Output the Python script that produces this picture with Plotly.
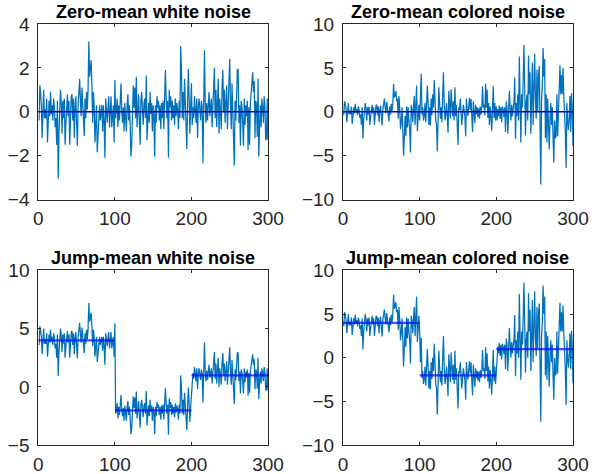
import plotly.graph_objects as go

# ---------------------------------------------------------------- data
# sample index shared by all four panels
sample_index = list(range(1, 301))

white_noise = [
    -0.4, 1.2, 0.9, 0.3, -1.2, 0.2, 1.0, -0.3, 0.1, -0.3,
    0.6, -1.4, 0.2, 0.5, -0.2, 0.9, -0.1, 0.3, -0.4, 0.6,
    0.2, -0.7, -0.3, -1.5, 0.5, -3.05, -1.0, -0.2, 1.0, 0.4,
    -1.0, 0.5, -0.3, 0.6, -1.5, -0.6, 0.7, 0.8, -0.2, 0.5,
    -1.5, 0.3, 0.7, 0.8, -0.4, 0.6, -1.2, 0.2, 0.7, -0.5,
    -1.55, 0.3, 1.1, 1.5, 0.5, -0.2, 1.1, 0.3, -0.8, -1.1,
    0.6, -0.3, 0.9, 0.1, 1.0, 3.2, 1.6, 2.3, 2.35, 1.2,
    -0.5, 0.9, 0.2, -1.4, -0.6, 0.3, -1.85, -1.0, -0.2, 0.3,
    -0.4, 0.1, 0.3, -0.9, 0.3, -0.5, -2.1, 0.6, 0.1, -0.5,
    0.2, 0.7, -0.7, 0.4, 0.7, -0.7, 0.1, 0.3, -1.4, 1.45,
    -0.3, 0.2, 0.6, -0.7, 0.3, -0.4, 1.1, 1.3, 0.0, -0.5,
    0.2, -0.9, 0.4, -0.2, -0.9, 0.3, 0.8, -0.4, 0.3, -0.6,
    -2.05, -1.5, 0.6, 1.2, 0.2, 1.1, -0.3, 1.6, -0.7, 0.2,
    0.8, -0.4, -1.5, 0.5, 0.9, 0.1, -0.6, 0.4, 0.6, -0.3,
    1.65, -1.3, -0.2, 0.4, -0.5, 0.9, -0.1, 0.4, -0.9, 0.3,
    -0.2, -2.05, 0.3, -0.5, 0.7, 0.2, 0.5, -0.4, 0.3, -0.8,
    0.4, -0.3, 0.5, -0.8, 0.6, 1.9, 0.6, -0.3, 0.5, -2.1,
    1.0, 0.2, 0.7, -0.4, 0.5, -0.3, 0.3, -0.6, 0.6, -0.2,
    0.4, 0.1, -0.8, 0.5, -0.3, 3.0, 1.9, -0.3, 0.9, -0.4,
    1.5, 0.2, -1.0, -1.7, 0.5, 1.95, 0.6, -1.0, 0.3, 1.3,
    -0.6, 0.2, -0.3, 0.7, 0.1, -0.5, 0.6, -1.2, 0.2, 0.6,
    0.1, -0.4, 0.5, 0.2, -2.35, 0.4, 2.8, 0.4, -0.5, 0.4,
    -0.4, 0.3, 0.9, -0.2, 0.1, 0.6, -0.7, 0.3, 0.5, 2.0,
    -0.3, 1.0, -0.7, 0.4, 1.5, -1.0, 0.6, 0.0, -0.8, 1.1,
    1.9, 0.0, 1.0, -0.5, 0.3, 1.2, -0.8, 0.4, 1.3, 2.4,
    0.4, -0.8, 1.3, 0.1, -0.3, -2.45, 0.5, -0.4, 0.7, 1.95,
    1.9, -0.5, 0.3, -1.55, 0.5, 0.2, -0.6, -1.55, 0.6, -0.6,
    0.3, -0.2, 0.5, -1.75, 0.2, -1.5, 0.4, 0.9, 1.4, 1.8,
    0.9, 1.4, -1.2, 0.5, 0.3, -1.15, 1.5, -2.05, -0.6, 0.3,
    -0.7, 0.6, 0.2, -0.5, 0.7, 0.2, -1.3, -1.2, 0.6, -1.3,
]

colored_noise = [
    -0.4, 1.2, 0.9, 0.3, -1.2, 0.2, 1.0, -0.3, 0.1, -0.3,
    0.6, -1.4, 0.2, 0.5, -0.2, 0.9, -0.1, 0.3, -0.4, 0.6,
    0.2, -0.7, -0.3, -1.5, 0.5, -3.05, -1.0, -0.2, 1.0, 0.4,
    -1.0, 0.5, -0.3, 0.6, -1.5, -0.6, 0.7, 0.8, -0.2, 0.5,
    -1.5, 0.3, 0.7, 0.8, -0.4, 0.6, -1.2, 0.2, 0.7, -0.5,
    -1.55, 0.3, 1.1, 1.5, 0.5, -0.2, 1.1, 0.3, -0.8, -1.1,
    0.6, -0.3, 0.9, 0.1, 1.0, 3.2, 1.6, 2.3, 2.35, 1.2,
    1.5, -0.8, 1.8, 0.3, -2.0, -1.2, 0.5, -2.0, -5.0, -2.8,
    -0.5, -2.75, 0.6, -1.8, 0.5, -1.0, -2.0, -4.65, 0.8, 0.2,
    -1.2, 0.6, 1.8, -1.5, 1.0, 3.0, -2.2, 0.3, 0.8, -1.0,
    1.5, 4.3, -0.3, 0.5, -1.0, -0.5, 1.0, -1.2, 0.8, 3.0,
    1.0, -1.5, 0.5, -1.6, 1.5, -0.4, 2.0, 0.5, 3.6, 0.5,
    -1.0, -1.5, -4.5, -1.0, 2.8, 1.0, -0.8, 0.5, -1.2, 2.0,
    4.5, 1.0, -1.0, -0.3, 1.0, -0.6, -2.4, 2.4, 0.2, -0.8,
    2.6, 0.5, -0.5, 1.2, -1.0, 2.8, -0.5, 0.8, -1.5, -3.8,
    0.5, 0.2, 1.5, 0.4, -1.5, -0.3, 0.8, 0.2, -0.5, -2.8,
    1.5, 0.3, -0.5, 0.6, 1.6, 0.2, 1.45, -0.6, -2.3, 1.2,
    0.2, -1.3, 0.8, -0.3, 0.5, -0.6, 0.4, -0.8, 0.6, -0.3,
    0.5, 2.9, 0.5, 0.8, -0.4, 3.2, 0.5, 2.5, -0.7, 1.0,
    -1.5, 0.6, -0.5, -2.2, 0.3, 2.9, -0.7, 1.0, -1.0, 0.6,
    -1.0, 0.3, -0.5, 0.7, -0.8, 0.5, -1.2, 0.6, 0.2, -0.6,
    0.5, -2.3, 1.2, 0.4, -2.5, 0.5, 2.4, 0.5, -1.0, 0.8,
    -0.5, 0.4, 1.0, 3.9, -3.1, 1.0, -0.5, 2.0, -1.0, 6.3,
    3.0, -3.5, 2.0, 0.5, 3.5, 7.6, 3.0, -2.7, 1.0, 2.0,
    -1.0, 6.4, 2.0, 4.5, -2.5, 2.0, 5.6, -1.5, 1.5, 6.6,
    1.5, -0.8, 4.8, 0.0, 4.1, 5.2, -1.5, -8.3, 1.5, 3.0,
    7.25, 4.0, 6.0, -3.0, 2.0, -3.5, 1.5, -1.5, -4.3, -0.8,
    1.0, -1.5, 0.5, -3.0, -5.8, -1.0, -3.0, -2.8, 2.0, -2.8,
    0.5, 1.5, 5.3, 2.0, 4.2, 2.0, 5.0, 1.8, 0.0, -2.3,
    -6.4, 1.0, -1.0, -2.1, -0.7, 1.8, -2.3, 2.1, 0.5, -3.9,
]

jump_white = [
    3.6, 5.2, 4.9, 4.3, 2.8, 4.2, 5.0, 3.7, 4.1, 3.7,
    4.6, 2.6, 4.2, 4.5, 3.8, 4.9, 3.9, 4.3, 3.6, 4.6,
    4.2, 3.3, 3.7, 2.5, 4.5, 0.95, 3.0, 3.8, 5.0, 4.4,
    3.0, 4.5, 3.7, 4.6, 2.5, 3.4, 4.7, 4.8, 3.8, 4.5,
    2.5, 4.3, 4.7, 4.8, 3.6, 4.6, 2.8, 4.2, 4.7, 3.5,
    2.45, 4.3, 5.1, 5.5, 4.5, 3.8, 5.1, 4.3, 3.2, 2.9,
    4.6, 3.7, 4.9, 4.1, 5.0, 7.2, 5.6, 6.3, 6.35, 5.2,
    3.5, 4.9, 4.2, 2.6, 3.4, 4.3, 2.15, 3.0, 3.8, 4.3,
    3.6, 4.1, 4.3, 3.1, 4.3, 3.5, 1.9, 4.6, 4.1, 3.5,
    4.2, 4.7, 3.3, 4.4, 4.7, 3.3, 4.1, 4.3, 2.6, 5.45,
    -2.3, -1.8, -1.4, -2.7, -1.7, -2.4, -0.9, -0.7, -2.0, -2.5,
    -1.8, -2.9, -1.6, -2.2, -2.9, -1.7, -1.2, -2.4, -1.7, -2.6,
    -4.05, -3.5, -1.4, -0.8, -1.8, -0.9, -2.3, -0.4, -2.7, -1.8,
    -1.2, -2.4, -3.5, -1.5, -1.1, -1.9, -2.6, -1.6, -1.4, -2.3,
    -0.35, -3.3, -2.2, -1.6, -2.5, -1.1, -2.1, -1.6, -2.9, -1.7,
    -2.2, -4.05, -1.7, -2.5, -1.3, -1.8, -1.5, -2.4, -1.7, -2.8,
    -1.6, -2.3, -1.5, -2.8, -1.4, -0.1, -1.4, -2.3, -1.5, -4.1,
    -1.0, -1.8, -1.3, -2.4, -1.5, -2.3, -1.7, -2.6, -1.4, -2.2,
    -1.6, -1.9, -2.8, -1.5, -2.3, 1.0, -0.1, -2.3, -1.1, -2.4,
    -0.5, -1.8, -3.0, -3.7, -1.5, -0.05, -1.4, -3.0, -1.7, -0.7,
    0.4, 1.2, 0.7, 1.7, 1.1, 0.5, 1.6, -0.2, 1.2, 1.6,
    1.1, 0.6, 1.5, 1.2, -1.35, 1.4, 3.8, 1.4, 0.5, 1.4,
    0.6, 1.3, 1.9, 0.8, 1.1, 1.6, 0.3, 1.3, 1.5, 3.0,
    0.7, 2.0, 0.3, 1.4, 2.5, 0.0, 1.6, 1.0, 0.2, 2.1,
    2.9, 1.0, 2.0, 0.5, 1.3, 2.2, 0.2, 1.4, 2.3, 3.4,
    1.4, 0.2, 2.3, 1.1, 0.7, -1.45, 1.5, 0.6, 1.7, 2.95,
    2.9, 0.5, 1.3, -0.55, 1.5, 1.2, 0.4, -0.55, 1.6, 0.4,
    1.3, 0.8, 1.5, -0.75, 1.2, -0.5, 1.4, 1.9, 2.4, 2.8,
    1.9, 2.4, -0.2, 1.5, 1.3, -0.15, 2.5, -1.05, 0.4, 1.3,
    0.3, 1.6, 1.2, 0.5, 1.7, 1.2, -0.3, -0.2, 1.6, -0.3,
]

jump_colored = [
    3.6, 5.2, 4.9, 4.3, 2.8, 4.2, 5.0, 3.7, 4.1, 3.7,
    4.6, 2.6, 4.2, 4.5, 3.8, 4.9, 3.9, 4.3, 3.6, 4.6,
    4.2, 3.3, 3.7, 2.5, 4.5, 0.95, 3.0, 3.8, 5.0, 4.4,
    3.0, 4.5, 3.7, 4.6, 2.5, 3.4, 4.7, 4.8, 3.8, 4.5,
    2.5, 4.3, 4.7, 4.8, 3.6, 4.6, 2.8, 4.2, 4.7, 3.5,
    2.45, 4.3, 5.1, 5.5, 4.5, 3.8, 5.1, 4.3, 3.2, 2.9,
    4.6, 3.7, 4.9, 4.1, 5.0, 7.2, 5.6, 6.3, 6.35, 5.2,
    5.5, 3.2, 5.8, 4.3, 2.0, 2.8, 4.5, 2.0, -1.0, 1.2,
    3.5, 1.25, 4.6, 2.2, 4.5, 3.0, 2.0, -0.65, 4.8, 4.2,
    2.8, 4.6, 5.8, 2.5, 5.0, 7.0, 1.8, 4.3, 4.8, 3.0,
    -0.5, 2.3, -2.3, -1.5, -3.0, -2.5, -1.0, -3.2, -1.2, 1.0,
    -1.0, -3.5, -1.5, -3.6, -0.5, -2.4, 0.0, -1.5, 1.6, -1.5,
    -3.0, -3.5, -6.5, -3.0, 0.8, -1.0, -2.8, -1.5, -3.2, 0.0,
    2.5, -1.0, -3.0, -2.3, -1.0, -2.6, -4.4, 0.4, -1.8, -2.8,
    0.6, -1.5, -2.5, -0.8, -3.0, 0.8, -2.5, -1.2, -3.5, -5.8,
    -1.5, -1.8, -0.5, -1.6, -3.5, -2.3, -1.2, -1.8, -2.5, -4.8,
    -0.5, -1.7, -2.5, -1.4, -0.4, -1.8, -0.55, -2.6, -4.3, -0.8,
    -1.8, -3.3, -1.2, -2.3, -1.5, -2.6, -1.6, -2.8, -1.4, -2.3,
    -1.5, 0.9, -1.5, -1.2, -2.4, 1.2, -1.5, 0.5, -2.7, -1.0,
    -3.5, -1.4, -2.5, -4.2, -1.7, 0.9, -2.7, -1.0, -3.0, -1.4,
    0.0, 1.3, 0.5, 1.7, 0.2, 1.5, -0.2, 1.6, 1.2, 0.4,
    1.5, -1.3, 2.2, 1.4, -1.5, 1.5, 3.4, 1.5, 0.0, 1.8,
    0.5, 1.4, 2.0, 4.9, -2.1, 2.0, 0.5, 3.0, 0.0, 7.3,
    4.0, -2.5, 3.0, 1.5, 4.5, 8.6, 4.0, -1.7, 2.0, 3.0,
    0.0, 7.4, 3.0, 5.5, -1.5, 3.0, 6.6, -0.5, 2.5, 7.6,
    2.5, 0.2, 5.8, 1.0, 5.1, 6.2, -0.5, -7.3, 2.5, 4.0,
    8.25, 5.0, 7.0, -2.0, 3.0, -2.5, 2.5, -0.5, -3.3, 0.2,
    2.0, -0.5, 1.5, -2.0, -4.8, 0.0, -2.0, -1.8, 3.0, -1.8,
    1.5, 2.5, 6.3, 3.0, 5.2, 3.0, 6.0, 2.8, 1.0, -1.3,
    -5.4, 2.0, 0.0, -1.1, 0.3, 2.8, -1.3, 3.1, 1.5, -2.9,
]

# piecewise-constant mean: segment edges and the level on each segment
segment_edges = [0, 100, 200, 300]
jump_levels = [4, -2, 1]
zero_level = [0]
zero_edges = [0, 300]

panel_titles = [
    "Zero-mean white noise",
    "Zero-mean colored noise",
    "Jump-mean white noise",
    "Jump-mean colored noise",
]
x_ticks = [0, 100, 200, 300]
y_ticks = [
    [-4, -2, 0, 2, 4],
    [-10, -5, 0, 5, 10],
    [-5, 0, 5, 10],
    [-10, -5, 0, 5, 10],
]
y_ranges = [[-4, 4], [-10, 10], [-5, 10], [-10, 10]]

# ---------------------------------------------------------------- layout
W, H = 596, 474
FONT = "Liberation Sans, Arial, Helvetica, sans-serif"
AXIS_COLOR = "#262626"
SIGNAL_COLOR = "#0072BD"

col_px = [(38.3, 268.0), (343.0, 573.0)]
row_px = [(24.0, 199.5), (270.3, 445.3)]
title_px_y = [12.0, 258.0]

series = [white_noise, colored_noise, jump_white, jump_colored]
mean_specs = [
    (zero_edges, zero_level, "#0000c8", 1.5),
    (zero_edges, zero_level, "#0000c8", 1.5),
    (segment_edges, jump_levels, "rgba(0,0,255,0.7)", 2.2),
    (segment_edges, jump_levels, "rgba(0,0,255,0.7)", 2.2),
]

fig = go.Figure()
annotations = []

for k in range(4):
    r, c = divmod(k, 2)
    suffix = "" if k == 0 else str(k + 1)
    xa, ya = "x" + suffix, "y" + suffix

    fig.add_trace(go.Scatter(
        x=sample_index, y=series[k], mode="lines",
        line=dict(color=SIGNAL_COLOR, width=1.25),
        xaxis=xa, yaxis=ya, showlegend=False, hoverinfo="skip",
    ))

    edges, levels, mcolor, mwidth = mean_specs[k]
    for i, lev in enumerate(levels):
        fig.add_trace(go.Scatter(
            x=[edges[i], edges[i + 1]], y=[lev, lev], mode="lines",
            line=dict(color=mcolor, width=mwidth),
            xaxis=xa, yaxis=ya, showlegend=False, hoverinfo="skip",
        ))

    x0, x1 = col_px[c]
    y0, y1 = row_px[r]
    axis_common = dict(
        showline=True, linecolor=AXIS_COLOR, linewidth=1, mirror="ticks",
        ticks="inside", ticklen=3, tickcolor=AXIS_COLOR, tickwidth=1,
        showgrid=False, zeroline=False, automargin=False,
        tickfont=dict(family=FONT, size=19, color=AXIS_COLOR),
        fixedrange=True,
    )
    fig.layout["xaxis" + suffix] = dict(
        axis_common, domain=[x0 / W, x1 / W], range=[0, 300],
        tickvals=x_ticks, anchor=ya, ticklabelstandoff=2,
    )
    fig.layout["yaxis" + suffix] = dict(
        axis_common, domain=[1 - y1 / H, 1 - y0 / H], range=y_ranges[k],
        tickvals=y_ticks[k], anchor=xa, ticklabelstandoff=4,
    )
    annotations.append(dict(
        text="<b>" + panel_titles[k] + "</b>",
        x=(x0 + x1) / 2 / W, y=1 - title_px_y[r] / H,
        xref="paper", yref="paper", xanchor="center", yanchor="middle",
        showarrow=False, font=dict(family=FONT, size=18, color="#000000"),
    ))

fig.update_layout(
    template="none",
    width=W, height=H, margin=dict(l=0, r=0, t=0, b=0, pad=0),
    paper_bgcolor="white", plot_bgcolor="white",
    annotations=annotations,
)

fig.write_html("out.html")
